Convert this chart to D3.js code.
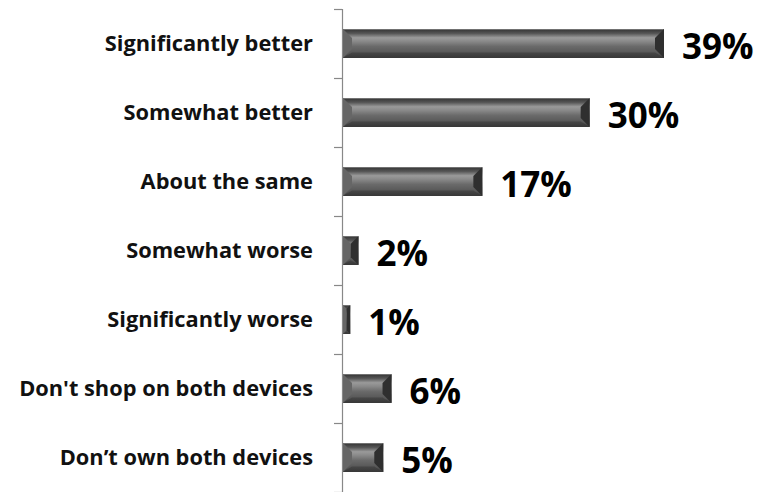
<!DOCTYPE html>
<html><head><meta charset="utf-8">
<script src="https://cdn.jsdelivr.net/npm/d3@7"></script>
<style>body{margin:0;background:#fff;}svg{display:block;}</style>
</head><body>
<script>
const categories = ["Significantly better","Somewhat better","About the same","Somewhat worse","Significantly worse","Don't shop on both devices","Don\u2019t own both devices"];
const values = [39,30,17,2,1,6,5];
const valueLabels = ["39%","30%","17%","2%","1%","6%","5%"];

const W=758,H=492;
const svg=d3.select("body").append("svg").attr("width",W).attr("height",H);
const x=d3.scaleLinear().domain([0,39]).range([342,664]);
const y=d3.scaleBand().domain(categories).range([9,492]).paddingInner(0.58).paddingOuter(0.29);

const defs=svg.append("defs");
const g=defs.append("linearGradient").attr("id","bar").attr("x1",0).attr("y1",0).attr("x2",0).attr("y2",1);
[[0,"#8a8a8a"],[0.05,"#3e3e3e"],[0.15,"#555"],[0.3,"#9a9a9a"],[0.42,"#8a8a8a"],[0.6,"#6a6a6a"],[0.85,"#555"],[1,"#3a3a3a"]]
 .forEach(([o,c])=>g.append("stop").attr("offset",o).attr("stop-color",c));

const axisG=svg.append("g");
axisG.append("line").attr("x1",342.5).attr("x2",342.5).attr("y1",9).attr("y2",492).attr("stroke","#888").attr("stroke-width",1.2);
const tickYs=d3.range(categories.length+1).map(i=>9+i*(483/categories.length));
axisG.selectAll("line.t").data(tickYs).join("line").attr("class","t")
 .attr("x1",334).attr("x2",342).attr("y1",d=>Math.round(d)+0.5).attr("y2",d=>Math.round(d)+0.5)
 .attr("stroke","#888").attr("stroke-width",1.2);

const bars=svg.append("g").selectAll("g").data(categories).join("g");
bars.each(function(c,i){
  const sel=d3.select(this);
  const x0=x(0)+1, x1=x(values[i]), y0=y(c), h=y.bandwidth();
  const w=x1-x0;
  sel.append("rect").attr("x",x0).attr("y",y0).attr("width",w).attr("height",h).attr("fill","url(#bar)");
  const b=Math.min(9,w/2);
  sel.append("polygon").attr("points",`${x0},${y0} ${x0+b},${y0+b} ${x0+b},${y0+h-b} ${x0},${y0+h}`).attr("fill","#666");
  sel.append("polygon").attr("points",`${x1},${y0} ${x1-b},${y0+b} ${x1-b},${y0+h-b} ${x1},${y0+h}`).attr("fill","#2f2f2f");
  sel.append("polygon").attr("points",`${x0},${y0+h} ${x1},${y0+h} ${x1-b},${y0+h-b*0.6} ${x0+b},${y0+h-b*0.6}`).attr("fill","#333").attr("opacity",0.5);
});

svg.append("g").selectAll("text").data(categories).join("text")
 .attr("x",313).attr("y",d=>y(d)+y.bandwidth()/2).attr("dy","0.35em")
 .attr("text-anchor","end").attr("font-family","'Open Sans', sans-serif").attr("font-weight","bold")
 .attr("font-size",21.8).attr("fill","#111").text(d=>d);

svg.append("g").selectAll("text").data(categories).join("text")
 .attr("x",(d,i)=>x(values[i])+18).attr("y",d=>y(d)+y.bandwidth()/2+3).attr("dy","0.35em")
 .attr("font-family","'Open Sans', sans-serif").attr("font-weight","bold")
 .attr("font-size",35).attr("fill","#000").text((d,i)=>valueLabels[i]);
</script>
</body></html>
